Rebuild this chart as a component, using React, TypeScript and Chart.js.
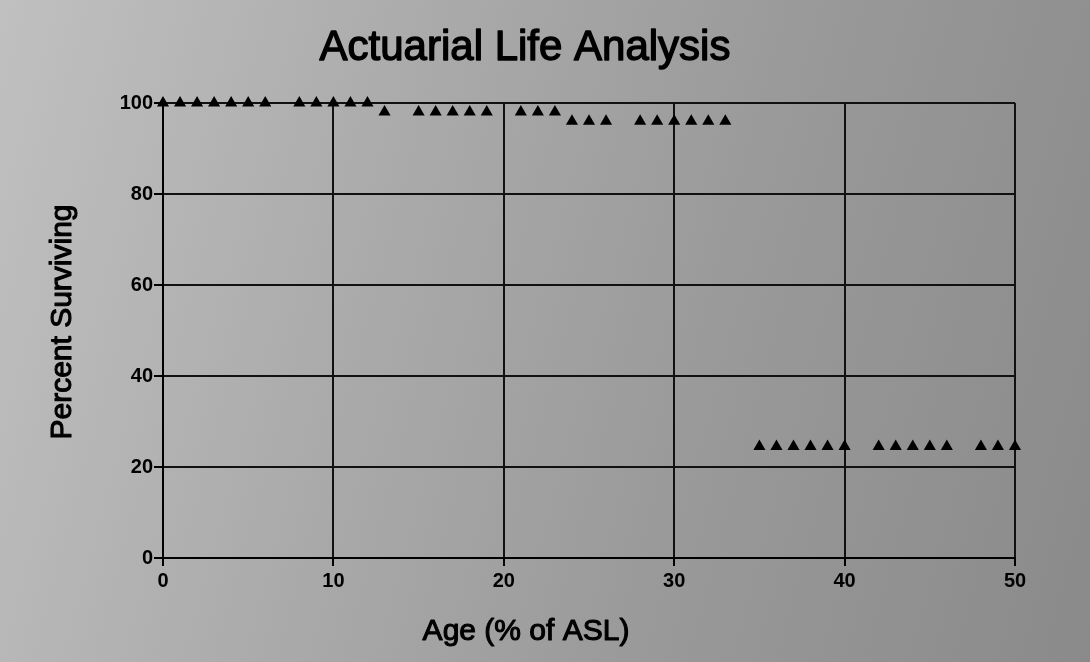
import React, { useEffect, useRef } from "react";
import { Chart, registerables } from "chart.js";

Chart.register(...registerables);

// ---- Data ----
const chartTitle = "Actuarial Life Analysis";
const xAxisTitle = "Age (% of ASL)";
const yAxisTitle = "Percent Surviving";

const ages = [
  0, 1, 2, 3, 4, 5, 6, 8, 9, 10, 11, 12,
  13, 15, 16, 17, 18, 19, 21, 22, 23,
  24, 25, 26, 28, 29, 30, 31, 32, 33,
  35, 36, 37, 38, 39, 40, 42, 43, 44, 45, 46, 48, 49, 50,
];
const percentSurviving = [
  100, 100, 100, 100, 100, 100, 100, 100, 100, 100, 100, 100,
  98, 98, 98, 98, 98, 98, 98, 98, 98,
  96, 96, 96, 96, 96, 96, 96, 96, 96,
  24.5, 24.5, 24.5, 24.5, 24.5, 24.5, 24.5, 24.5, 24.5, 24.5, 24.5, 24.5, 24.5, 24.5,
];
const xTicks = [0, 10, 20, 30, 40, 50];
const yTicks = [0, 20, 40, 60, 80, 100];

// ---- Layout / style ----
const W = 1090;
const H = 662;
const FONT = '"Liberation Sans", Arial, Helvetica, sans-serif';

const textPlugin = {
  id: "refTexts",
  afterDraw(chart: any) {
    const { ctx } = chart;
    ctx.save();
    ctx.fillStyle = "#000";
    ctx.strokeStyle = "#000";
    ctx.lineJoin = "round";
    ctx.textAlign = "center";
    ctx.textBaseline = "alphabetic";
    ctx.font = `42px ${FONT}`;
    ctx.lineWidth = 1.4;
    ctx.fillText(chartTitle, 525, 60);
    ctx.strokeText(chartTitle, 525, 60);
    ctx.font = `30px ${FONT}`;
    ctx.lineWidth = 1.1;
    ctx.fillText(xAxisTitle, 526, 640);
    ctx.strokeText(xAxisTitle, 526, 640);
    ctx.translate(71, 322);
    ctx.rotate(-Math.PI / 2);
    ctx.fillText(yAxisTitle, 0, 0);
    ctx.strokeText(yAxisTitle, 0, 0);
    ctx.restore();
  },
};

export default function App() {
  const canvasRef = useRef<HTMLCanvasElement | null>(null);

  useEffect(() => {
    const canvas = canvasRef.current;
    if (!canvas) return;
    const chart = new Chart(canvas, {
      type: "scatter",
      data: {
        datasets: [
          {
            label: "Percent Surviving",
            data: ages.map((a, i) => ({ x: a, y: percentSurviving[i] })),
            pointStyle: "triangle",
            pointRadius: 7,
            pointHoverRadius: 7,
            backgroundColor: "#000",
            borderColor: "#000",
            borderWidth: 0,
            showLine: false,
            clip: false,
          },
        ],
      },
      options: {
        animation: false,
        responsive: false,
        devicePixelRatio: 1,
        layout: { padding: { top: 103, right: 75, bottom: 0, left: 0 } },
        plugins: {
          legend: { display: false },
          title: { display: false },
          tooltip: { enabled: false },
        },
        scales: {
          x: {
            type: "linear",
            min: 0,
            max: 50,
            afterBuildTicks: (s: any) => {
              s.ticks = xTicks.map((v) => ({ value: v }));
            },
            afterFit: (s: any) => {
              s.height = 104;
            },
            ticks: {
              color: "#000",
              font: { family: FONT, size: 20, weight: "bold" },
              padding: 3,
              maxRotation: 0,
            },
            grid: {
              color: "#111",
              lineWidth: 2,
              tickLength: 8,
              tickColor: "#000",
              tickWidth: 2,
            },
            border: { color: "#000", width: 2 },
          },
          y: {
            type: "linear",
            min: 0,
            max: 100,
            afterBuildTicks: (s: any) => {
              s.ticks = yTicks.map((v) => ({ value: v }));
            },
            afterFit: (s: any) => {
              s.width = 163;
            },
            ticks: {
              color: "#000",
              font: { family: FONT, size: 20, weight: "bold" },
              padding: 1,
            },
            grid: {
              color: "#111",
              lineWidth: 2,
              tickLength: 9,
              tickColor: "#000",
              tickWidth: 2,
            },
            border: { color: "#000", width: 2 },
          },
        },
      },
      plugins: [textPlugin],
    });
    return () => chart.destroy();
  }, []);

  return (
    <div
      style={{
        position: "fixed",
        left: 0,
        top: 0,
        width: W,
        height: H,
        background:
          "linear-gradient(105deg, #c0c0c0 0%, #aaaaaa 35%, #999999 65%, #8a8a8a 100%)",
      }}
    >
      <canvas ref={canvasRef} width={W} height={H} style={{ display: "block", width: W, height: H }} />
    </div>
  );
}
